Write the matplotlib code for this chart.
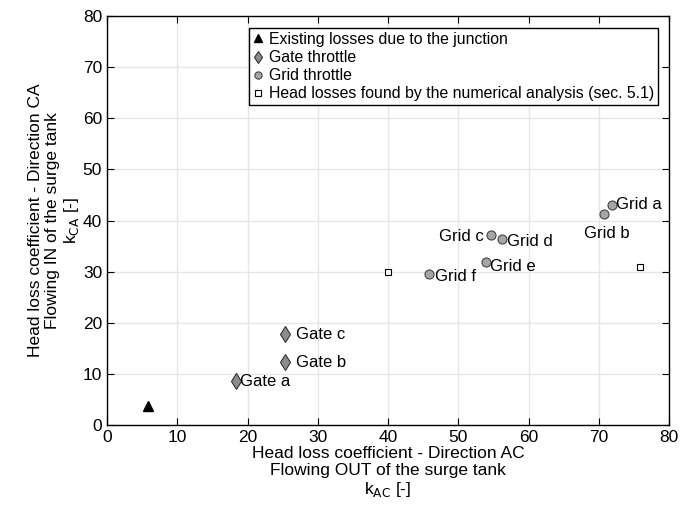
import numpy as np
import matplotlib.pyplot as plt

plt.rcParams['font.family'] = ['Liberation Sans', 'DejaVu Sans']

# data
junction_x = [5.8]
junction_y = [3.8]

gate_names = ['Gate a', 'Gate b', 'Gate c']
gate_x = [18.4, 25.3, 25.3]
gate_y = [8.6, 12.3, 17.8]

grid_names = ['Grid a', 'Grid b', 'Grid c', 'Grid d', 'Grid e', 'Grid f']
grid_x = [71.9, 70.7, 54.6, 56.2, 53.9, 45.9]
grid_y = [43.1, 41.3, 37.1, 36.4, 31.9, 29.6]

num_x = [40.0, 75.9]
num_y = [30.0, 30.9]

# label offsets in points (dx, dy, ha)
gate_off = [(3, 0, 'left'), (8, 0, 'left'), (8, 0, 'left')]
grid_off = [(3, 0, 'left'), (2, -14, 'center'), (-5, -1, 'right'),
            (4, -2, 'left'), (3, -3, 'left'), (4, -2, 'left')]

fig = plt.figure(figsize=(6.94, 5.18), dpi=100)
ax = fig.add_axes([0.1542, 0.1795, 0.8098, 0.7895])

ax.plot(junction_x, junction_y, '^', color='black', markersize=7,
        label='Existing losses due to the junction')
ax.plot(gate_x, gate_y, 'd', markerfacecolor='#8c8c8c', markeredgecolor='#333333',
        markersize=8, markeredgewidth=0.8, label='Gate throttle')
ax.plot(grid_x, grid_y, 'o', markerfacecolor='#a6a6a6', markeredgecolor='#444444',
        markersize=6.5, markeredgewidth=0.8, label='Grid throttle')
ax.plot(num_x, num_y, 's', markerfacecolor='white', markeredgecolor='black',
        markersize=5, markeredgewidth=0.8,
        label='Head losses found by the numerical analysis (sec. 5.1)')

for name, x, y, (dx, dy, ha) in zip(gate_names, gate_x, gate_y, gate_off):
    ax.annotate(name, (x, y), xytext=(dx, dy), textcoords='offset points',
                ha=ha, va='center', fontsize=12)
for name, x, y, (dx, dy, ha) in zip(grid_names, grid_x, grid_y, grid_off):
    ax.annotate(name, (x, y), xytext=(dx, dy), textcoords='offset points',
                ha=ha, va='center', fontsize=12)

ax.set_xlim(0, 80)
ax.set_ylim(0, 80)
ax.set_xticks(np.arange(0, 81, 10))
ax.set_yticks(np.arange(0, 81, 10))
ax.grid(True, color='#e6e6e6', linewidth=1)
ax.set_axisbelow(True)
ax.tick_params(direction='in', top=True, right=True, labelsize=12.5, length=5)
for s in ax.spines.values():
    s.set_linewidth(1)

ax.set_xlabel('Head loss coefficient - Direction AC\nFlowing OUT of the surge tank\n'
              r'k$_{\mathrm{AC}}$ [-]', fontsize=12.5, linespacing=1.15, labelpad=1)
ax.set_ylabel('Head loss coefficient - Direction CA\nFlowing IN of the surge tank\n'
              r'k$_{\mathrm{CA}}$ [-]', fontsize=12.5, linespacing=1.15, labelpad=1)

leg = ax.legend(loc='upper right', bbox_to_anchor=(0.98, 0.971), borderaxespad=0,
                fontsize=11.4, fancybox=False, edgecolor='black', framealpha=1,
                handlelength=0.7, handletextpad=0.3, borderpad=0.25,
                labelspacing=0.2, markerscale=0.8)
leg.get_frame().set_linewidth(1)

fig.savefig('out.png', dpi=100)
